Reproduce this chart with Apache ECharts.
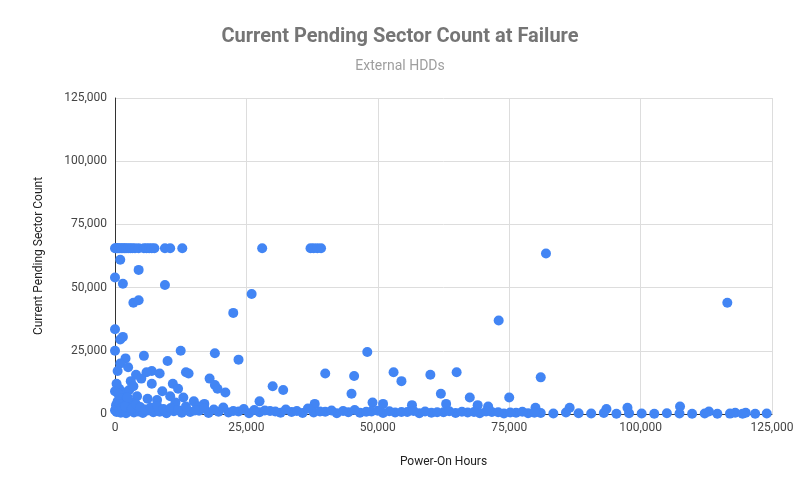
<!DOCTYPE html><html><head><meta charset="utf-8"><script src="https://cdn.jsdelivr.net/npm/echarts@6/dist/echarts.min.js"></script></head><body style="margin:0;background:#fff"><div id="c" style="width:800px;height:495px"></div><script>
const hoursTop=[0,200,400,600,900,1200,1500,1800,2100,2500,2900,3300,3800,4500,5500,6000,6500,7000,7500,9500,10500,12800,28000,37200,37800,38500,39200];
const valTop=hoursTop.map(()=>65535);
const hoursMid=[82000,116500,73000,1000,0,1500,9500,4500,3500,4500,26000,22500,0,1500,1000,0,12500,19000,48000,23500,10000,5500,40000,45500,53000,54500,60000,65000,81000,30000,32000,45000,62000,67500,75000,13500,14000,7000,6000,8500,18000,19000,19500,21000,11000,3000,2000,1000,2500,4000,5000,500,7000,12000,9000,15000,17000,27500,38000,49000,51000,56500,63000,69000,71000,80000,86500,93500,97500,107500,113000,118000,120000,124000,300,800,1800,2700,3500,4200,6200,8000,10500,11500,13000,16000,0,600,1300,2200,3100,500,1500];
const valMid=[63500,44000,37000,61000,54000,51500,51000,57000,44000,45000,47500,40000,33500,30500,29500,25000,25000,24000,24500,21500,21000,23000,16000,15000,16500,13000,15500,16500,14500,11000,9500,8000,8000,6500,6500,16500,16000,17000,16500,16000,14000,11500,10000,8500,12000,13000,22000,20000,18500,15500,14000,17000,12000,10000,9000,5000,4000,5000,4000,4500,4000,3500,4000,3500,3000,2500,2500,2000,2500,3000,1000,500,500,200,12000,10000,8500,9500,11000,7000,6000,5500,7000,4500,6500,3000,9000,8000,6000,5000,4500,3500,2500];
const hoursLow=[0,300,700,1100,1600,2100,2800,3600,4400,5300,6200,7300,8500,9800,11200,12700,14300,16000,17800,19700,21600,23500,25500,27500,29500,31500,33600,35700,37800,40000,42200,44400,46600,48800,51000,53300,55600,57900,60200,62500,64800,67100,69400,71700,74000,76300,78600,81000,83400,85800,88200,90600,93000,95400,97800,100200,102600,105000,107400,109800,112200,114600,117000,119400,121800];
const valLow=[1500,800,2000,500,1200,300,1800,600,1000,400,1400,700,900,300,1100,500,800,1300,400,900,600,1000,300,700,1200,500,800,400,600,900,300,700,500,1000,400,600,800,300,500,700,400,600,300,800,200,500,300,400,200,600,300,200,400,100,300,200,100,300,200,100,200,100,150,100,100];
const hoursLow2=[200,500,900,1300,1900,2400,3200,4000,4800,5800,6800,8000,9200,10600,12000,13500,15200,17000,18800,20600,22500,24500,26500,28500,30500,32500,34600,36700,39000,41200,43400,45600,47800,50000,52200,54500,56800,59000,61300,63600,66000,68300,70600,72900,75200,77500,79800];
const valLow2=[3500,5000,4000,2500,3000,6500,2200,3800,2800,1800,2600,3200,2000,2400,1600,3000,1400,2200,1800,2600,1200,2000,1600,1400,1000,1800,1200,2200,1000,1400,1200,1600,900,1300,1100,800,1200,1000,700,1100,900,800,1000,700,600,900,500];
function pairs(a,b){return a.map((x,i)=>[x,b[i]]);}
const data=[].concat(pairs(hoursTop,valTop),pairs(hoursMid,valMid),pairs(hoursLow,valLow),pairs(hoursLow2,valLow2));
const ch=echarts.init(document.getElementById('c'));
ch.setOption({
 title:{text:'Current Pending Sector Count at Failure',subtext:'External HDDs',left:'center',top:22,itemGap:12,
  textStyle:{fontFamily:'Roboto',fontSize:20,fontWeight:'bold',color:'#757575'},
  subtextStyle:{fontFamily:'Roboto',fontSize:14,color:'#9e9e9e'}},
 grid:{left:115,right:28,top:98,bottom:81},
 xAxis:{type:'value',min:0,max:125000,interval:25000,name:'Power-On Hours',nameLocation:'middle',nameGap:42,
  nameTextStyle:{fontFamily:'Roboto',fontSize:12,color:'#222'},
  axisLine:{show:true,lineStyle:{color:'#333'}},axisTick:{show:false},
  axisLabel:{fontFamily:'Roboto',fontSize:12,color:'#444'},splitLine:{lineStyle:{color:'#ddd'}}},
 yAxis:{type:'value',min:0,max:125000,interval:25000,name:'Current Pending Sector Count',nameLocation:'middle',nameGap:70,
  nameTextStyle:{fontFamily:'Roboto',fontSize:12,color:'#222'},
  axisLine:{show:true,lineStyle:{color:'#333'}},axisTick:{show:false},
  axisLabel:{fontFamily:'Roboto',fontSize:12,color:'#444'},splitLine:{lineStyle:{color:'#ddd'}}},
 series:[{type:'scatter',data:data,symbolSize:10,itemStyle:{color:'#4285f4',opacity:1}}]
});
</script></body></html>
